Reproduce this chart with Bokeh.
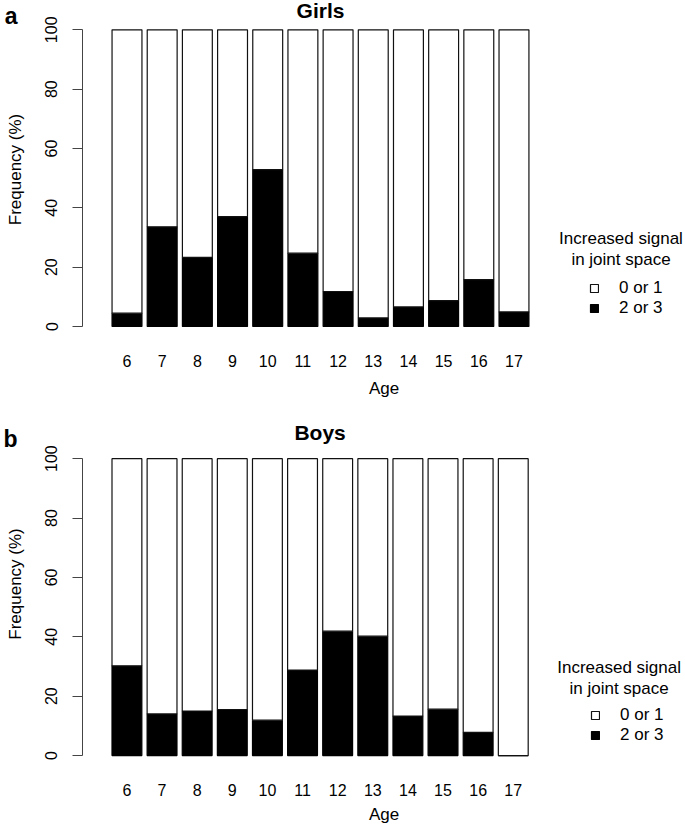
from bokeh.plotting import figure
from bokeh.models import (FixedTicker, Label, Legend, LegendItem, ColumnDataSource,
                          Range1d, LinearAxis)
from bokeh.layouts import column
from bokeh.embed import file_html
from bokeh.resources import INLINE

# ---------------- data ----------------
ages = [6, 7, 8, 9, 10, 11, 12, 13, 14, 15, 16, 17]
girls_2or3 = [4.5, 33.6, 23.3, 37.0, 52.9, 24.7, 11.8, 2.9, 6.6, 8.7, 15.8, 4.9]
boys_2or3 = [30.2, 14.0, 15.0, 15.5, 11.9, 28.8, 41.9, 40.2, 13.3, 15.6, 7.8, 0.0]
total = 100
y_ticks = [0, 20, 40, 60, 80, 100]
legend_title = ["Increased signal", "in joint space"]
legend_labels = ["0 or 1", "2 or 3"]
panel_titles = ["Girls", "Boys"]
panel_letters = ["a", "b"]

FONT = "Liberation Sans"
W = 685
PITCH = 35.18          # px per age step
BAR_W = 0.85


def make_panel(letter, title, values, H, left, frame_bottom, y0_px, y100_px,
               tick_standoff, label_standoff, leg_loc, title_mid, letter_mid,
               leg_title_x, leg_title_mid):
    ppu = (y0_px - y100_px) / 100.0
    y_end = 100 + y100_px / ppu
    y_start = -(frame_bottom - y0_px) / ppu
    x_start = ages[0] - 44.5 / PITCH
    x_end = x_start + (W - left) / PITCH

    def xd(px):
        return x_start + (px - left) / PITCH

    def yd(py):
        return y_end - py / ppu

    p = figure(width=W, height=H, output_backend="svg", toolbar_location=None,
               x_range=Range1d(x_start, x_end), y_range=Range1d(y_start, y_end),
               min_border_left=left, min_border_right=0, min_border_top=0,
               min_border_bottom=H - frame_bottom)
    p.background_fill_color = "white"
    p.border_fill_color = "white"
    p.outline_line_color = None
    p.grid.visible = False

    src = ColumnDataSource(dict(age=ages, val=values, full=[total] * len(ages)))
    r_black = p.vbar(x="age", width=BAR_W, bottom=0, top="val", source=src,
                     fill_color="black", line_color="black", line_width=1.2)
    r_white = p.vbar(x="age", width=BAR_W, bottom="val", top="full", source=src,
                     fill_color="white", line_color="#111111", line_width=1.2)

    # x axis
    xa = p.xaxis[0]
    xa.ticker = FixedTicker(ticks=ages)
    xa.axis_line_color = None
    xa.major_tick_line_color = None
    xa.minor_tick_line_color = None
    xa.major_tick_out = 0
    xa.major_tick_in = 0
    xa.major_label_standoff = tick_standoff
    xa.major_label_text_font = FONT
    xa.major_label_text_font_size = "16px"
    xa.major_label_text_color = "black"
    xa.axis_label = "Age"
    xa.axis_label_standoff = label_standoff
    xa.axis_label_text_font = FONT
    xa.axis_label_text_font_size = "17px"
    xa.axis_label_text_font_style = "normal"
    xa.axis_label_text_color = "black"

    # y axis
    ya = p.yaxis[0]
    ya.bounds = (0, 100)
    ya.ticker = FixedTicker(ticks=y_ticks)
    ya.axis_line_color = "#444444"
    ya.major_tick_line_color = "#444444"
    ya.minor_tick_line_color = None
    ya.major_tick_out = 10
    ya.major_tick_in = 0
    ya.major_label_orientation = "vertical"
    ya.major_label_standoff = 15
    ya.major_label_text_font = FONT
    ya.major_label_text_font_size = "16px"
    ya.major_label_text_color = "black"
    ya.axis_label = "Frequency (%)"
    ya.axis_label_standoff = 18
    ya.axis_label_text_font = FONT
    ya.axis_label_text_font_size = "17px"
    ya.axis_label_text_font_style = "normal"
    ya.axis_label_text_color = "black"

    # panel letter: an extra, bare left axis whose only tick label is the letter
    ly = yd(letter_mid)
    la = LinearAxis(ticker=FixedTicker(ticks=[ly]),
                    major_label_overrides={ly: letter},
                    axis_line_color=None, major_tick_line_color=None,
                    minor_tick_line_color=None, major_tick_out=0, major_tick_in=0,
                    major_label_orientation="horizontal",
                    major_label_standoff=-15,
                    major_label_text_font=FONT, major_label_text_font_size="23px",
                    major_label_text_font_style="bold",
                    major_label_text_color="black")
    p.add_layout(la, "left")

    # panel title
    p.add_layout(Label(x=sum(ages) / len(ages), y=yd(title_mid), text=title,
                       text_align="center", text_baseline="middle",
                       text_font=FONT, text_font_size="21px",
                       text_font_style="bold", text_color="black"))

    # legend title lines
    for i, line in enumerate(legend_title):
        p.add_layout(Label(x=xd(leg_title_x), y=yd(leg_title_mid + 21 * i), text=line,
                           text_align="center", text_baseline="middle",
                           text_font=FONT, text_font_size="17px",
                           text_color="black"))

    legend = Legend(items=[LegendItem(label=legend_labels[0], renderers=[r_white]),
                           LegendItem(label=legend_labels[1], renderers=[r_black])],
                    location=leg_loc, orientation="vertical",
                    border_line_color=None, background_fill_alpha=0,
                    padding=0, margin=0, spacing=0,
                    glyph_width=10, glyph_height=10, label_standoff=20,
                    label_height=20, label_text_font=FONT,
                    label_text_font_size="17px", label_text_baseline="alphabetic",
                    label_text_color="black")
    p.add_layout(legend)
    return p


top = make_panel(panel_letters[0], panel_titles[0], girls_2or3, H=400, left=82,
                 frame_bottom=338, y0_px=326, y100_px=29.3,
                 tick_standoff=16, label_standoff=9, leg_loc=(507, 20),
                 title_mid=9.6, letter_mid=10.4, leg_title_x=620.5,
                 leg_title_mid=237.8)
bot = make_panel(panel_letters[1], panel_titles[1], boys_2or3, H=426, left=81,
                 frame_bottom=368, y0_px=356, y100_px=58.3,
                 tick_standoff=16, label_standoff=6, leg_loc=(508, 21.7),
                 title_mid=32.5, letter_mid=38.3, leg_title_x=618.5,
                 leg_title_mid=267.8)

layout = column(top, bot)
open("out.html", "w").write(file_html(layout, INLINE))
